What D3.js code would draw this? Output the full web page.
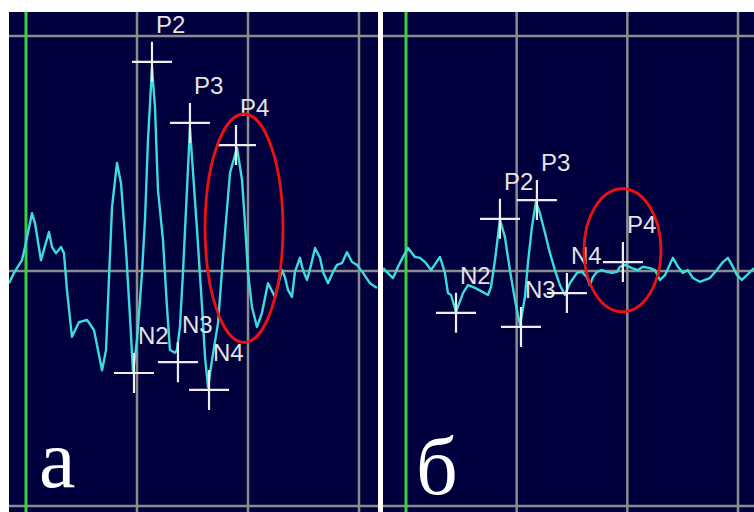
<!DOCTYPE html>
<html>
<head>
<meta charset="utf-8">
<script src="https://cdn.jsdelivr.net/npm/d3@7"></script>
<style>
  body { margin: 0; background: #fff; }
  svg { display: block; }
</style>
</head>
<body>
<div id="contents"></div>
<script>
// waveform a (time ms, amplitude uV)
var timeA = [-1.53,-1.08,-0.36,-0.09,0.54,0.81,1.35,2.07,2.34,2.70,3.15,3.42,3.69,4.14,4.77,5.50,6.13,6.85,7.21,7.48,
  7.75,8.20,8.56,9.01,9.37,9.64,10.00,10.45,10.72,10.99,11.35,11.62,11.89,12.34,12.70,12.97,13.42,13.60,13.87,14.14,
  14.50,14.77,15.05,15.41,15.86,16.13,16.40,16.76,17.30,17.75,18.38,19.01,19.46,19.73,20.00,20.36,20.81,21.26,21.80,22.43,
  23.06,23.33,23.60,23.96,24.23,24.68,24.95,25.32,25.68,26.04,26.49,26.76,27.21,27.66,28.02,28.47,28.92,29.37,29.82,30.36,
  30.99,31.62];
var ampA = [-0.26,-0.04,0.23,0.51,1.23,1.02,0.23,0.83,0.51,0.38,0.51,0.38,-0.40,-1.40,-1.09,-1.04,-1.26,-2.11,-1.68,-0.13,
  1.36,2.30,1.87,0.45,-0.98,-2.15,-1.47,-0.04,1.09,2.79,4.32,3.49,1.72,0.66,-0.77,-1.68,-1.74,-1.68,-1.19,-0.04,
  1.72,3.04,2.09,0.87,-0.77,-1.83,-2.47,-1.89,-1.11,0.30,2.09,2.62,1.94,1.02,-0.04,-0.77,-1.19,-0.89,-0.26,-0.55,
  0.02,-0.13,-0.40,-0.55,-0.02,0.28,0.02,-0.19,0.13,0.49,0.28,-0.02,-0.26,-0.02,0.13,0.17,0.40,0.19,0.13,-0.04,
  -0.26,-0.36];

// waveform б
var timeB = [-2.08,-1.17,-0.72,-0.27,0.18,0.81,1.26,1.72,2.26,3.07,3.52,3.79,4.07,4.52,5.15,5.60,6.23,6.96,7.41,7.68,
  8.04,8.49,8.94,9.39,9.85,10.30,10.75,11.02,11.38,11.74,12.10,12.56,13.01,13.46,13.91,14.36,14.81,15.45,15.90,16.35,
  16.62,16.89,17.25,17.71,18.16,18.61,19.06,19.33,19.78,20.42,20.96,21.41,22.04,22.49,22.95,23.40,24.12,24.57,25.02,25.47,
  25.93,26.56,27.01,27.46,28.09,28.64,29.09,29.45,29.91,30.35,30.80,31.26,31.44];
var ampB = [0.06,-0.15,0.09,0.30,0.49,0.30,0.28,0.19,0.02,0.30,-0.04,-0.47,-0.51,-0.87,-0.47,-0.30,-0.36,-0.45,-0.51,-0.34,
  0.23,1.09,0.72,0.02,-0.62,-1.15,-0.55,0.17,0.94,1.47,1.23,0.81,0.38,0.02,-0.30,-0.51,-0.26,-0.04,-0.02,-0.13,
  -0.30,-0.13,-0.02,0.02,-0.02,-0.04,-0.02,0.09,0.13,0.06,0.02,0.09,0.06,0.02,-0.19,-0.09,0.28,0.09,-0.04,0.02,
  -0.15,-0.23,-0.19,-0.15,0.02,0.19,0.28,0.13,-0.09,-0.19,-0.09,0.02,0.06];

// peak markers
var peakNamesA = ["P2","P3","P4","N2","N3","N4"];
var peakTimeA = [11.35,14.77,18.92,9.73,13.69,16.49];
var peakAmpA = [4.45,3.15,2.68,-2.17,-1.94,-2.53];

var peakNamesB = ["N2","P2","N3","P3","N4","P4"];
var peakTimeB = [4.52,8.49,10.39,11.83,14.54,19.60];
var peakAmpB = [-0.89,1.11,-1.19,1.51,-0.47,0.19];

// highlighted P4 region (centre and radii in ms / uV)
var ringT = [19.64, 19.56];
var ringV = [0.91, 0.44];
var ringRT = [3.51, 3.48];
var ringRV = [2.43, 1.31];

var panelLetters = ["а", "б"];
var gridTimes = [10, 20, 30];
var gridAmps = [5, 0, -5];

var width = 754, height = 512;

var svg = d3.select("#contents").append("svg")
  .attr("width", width).attr("height", height);

var y = d3.scaleLinear().domain([-5, 5]).range([506, 36]);

var panels = [
  {left: 9, right: 378, x: d3.scaleLinear().domain([0, 30]).range([26, 359]),
   t: timeA, v: ampA, names: peakNamesA, pt: peakTimeA, pv: peakAmpA, lx: 39, ly: 487},
  {left: 383, right: 754, x: d3.scaleLinear().domain([0, 30]).range([406, 738]),
   t: timeB, v: ampB, names: peakNamesB, pt: peakTimeB, pv: peakAmpB, lx: 416, ly: 494}
];

panels.forEach(function(p, i){
  var clipId = "clip" + i;
  svg.append("clipPath").attr("id", clipId)
    .append("rect")
      .attr("x", p.left).attr("y", 12)
      .attr("width", p.right - p.left).attr("height", height - 12);

  var inner = svg.append("g").attr("clip-path", "url(#" + clipId + ")");

  inner.append("rect")
    .attr("x", p.left).attr("y", 12)
    .attr("width", p.right - p.left).attr("height", height - 12)
    .attr("fill", "#00003e");

  inner.selectAll(".hgrid").data(gridAmps).enter().append("line")
    .attr("x1", p.left).attr("x2", p.right)
    .attr("y1", function(d){ return y(d); })
    .attr("y2", function(d){ return y(d); })
    .attr("stroke", "#8c8c8c").attr("stroke-width", 2.5);

  inner.selectAll(".vgrid").data(gridTimes).enter().append("line")
    .attr("x1", function(d){ return p.x(d); })
    .attr("x2", function(d){ return p.x(d); })
    .attr("y1", 12).attr("y2", height)
    .attr("stroke", "#8c8c8c").attr("stroke-width", 2.5);

  // stimulus line
  inner.append("line")
    .attr("x1", p.x(0)).attr("x2", p.x(0))
    .attr("y1", 12).attr("y2", height)
    .attr("stroke", "#3ccf3c").attr("stroke-width", 3);

  var line = d3.line()
    .x(function(d){ return p.x(d[0]); })
    .y(function(d){ return y(d[1]); });

  inner.append("path")
    .datum(d3.zip(p.t, p.v))
    .attr("d", line)
    .attr("fill", "none")
    .attr("stroke", "#3cdcdc")
    .attr("stroke-width", 2.4)
    .attr("stroke-linejoin", "round");

  var peaks = inner.selectAll(".peak")
    .data(p.names.map(function(n, k){ return {name: n, t: p.pt[k], v: p.pv[k]}; }))
    .enter().append("g");

  peaks.append("path")
    .attr("d", function(d){
      var cx = p.x(d.t), cy = y(d.v);
      return "M" + (cx - 20) + "," + cy + "H" + (cx + 20) +
             "M" + cx + "," + (cy - 20) + "V" + (cy + 20);
    })
    .attr("stroke", "#eeeeee").attr("stroke-width", 2.2).attr("fill", "none");

  peaks.append("text")
    .attr("x", function(d){ return p.x(d.t) + 4; })
    .attr("y", function(d){ return y(d.v) - 29; })
    .attr("style", "fill:#e4e4e4;font: 24px 'Liberation Sans', Arial, sans-serif;")
    .text(function(d){ return d.name; });

  inner.append("ellipse")
    .attr("cx", p.x(ringT[i]))
    .attr("cy", y(ringV[i]))
    .attr("rx", p.x(ringRT[i]) - p.x(0))
    .attr("ry", y(0) - y(ringRV[i]))
    .attr("fill", "none")
    .attr("stroke", "#ee1010")
    .attr("stroke-width", 2.8);

  svg.append("text")
    .attr("x", p.lx).attr("y", p.ly)
    .attr("style", "fill:#ffffff;font: 82px 'Liberation Serif', 'Times New Roman', serif;")
    .text(panelLetters[i]);
});
</script>
</body>
</html>
